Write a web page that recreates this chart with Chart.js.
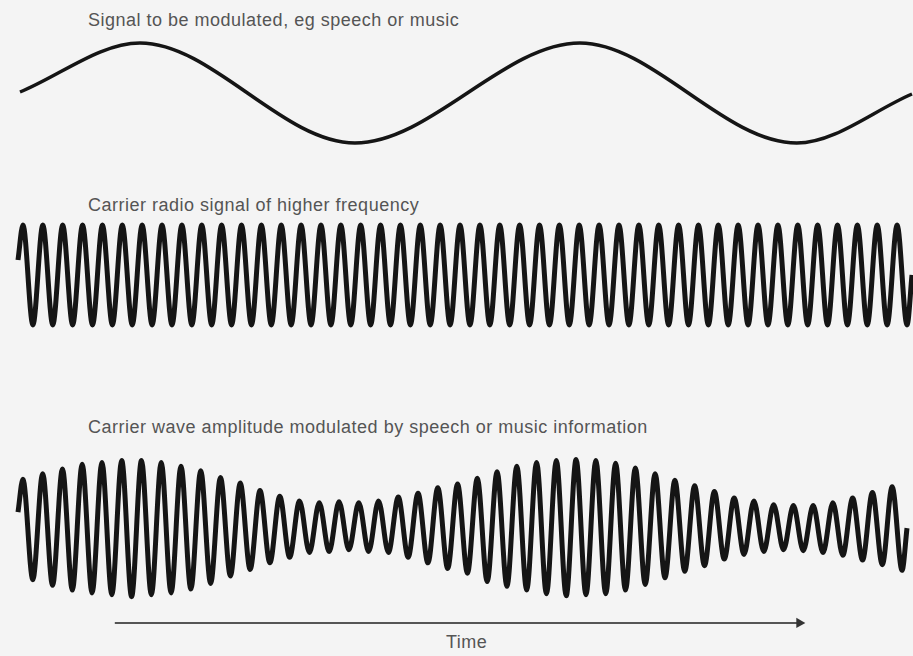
<!DOCTYPE html>
<html>
<head>
<meta charset="utf-8">
<script src="https://cdn.jsdelivr.net/npm/chart.js@4"></script>
<style>
  body { margin: 0; background: #f4f4f4; }
  #pagina { position: relative; width: 913px; height: 656px; background: #f4f4f4; overflow: hidden; }
  canvas { position: absolute; left: 0; }
  .rotulo { position: absolute; font-family: "Liberation Sans", Arial, sans-serif; font-size: 18px; color: #555555; letter-spacing: 0.5px; white-space: nowrap; }
</style>
</head>
<body>
<div id="pagina">
  <div class="rotulo" style="left:88px; top:10px;">Signal to be modulated, eg speech or music</div>
  <div class="rotulo" style="left:88px; top:195px;">Carrier radio signal of higher frequency</div>
  <div class="rotulo" style="left:88px; top:417px;">Carrier wave amplitude modulated by speech or music information</div>
  <div class="rotulo" style="left:446px; top:632px;">Time</div>
  <canvas id="graficoSinal" width="913" height="130" style="top:28px"></canvas>
  <canvas id="graficoPortadora" width="913" height="130" style="top:210px"></canvas>
  <canvas id="graficoModulado" width="913" height="196" style="top:447px"></canvas>
</div>
<script>
// tempo medido em ciclos da portadora (0 a 45)
const sinalTempos = [0.1, 6.14, 16.96, 28.28, 39.2, 45];
const sinalValores = [0.02, 1, -1, 1, -1, -0.02];

// picos e vales da portadora (inicio, pico, vale, ... , fim)
const portadoraTempos = [0,
    0.25, 0.75, 1.25, 1.75, 2.25, 2.75, 3.25, 3.75, 4.25, 4.75,
    5.25, 5.75, 6.25, 6.75, 7.25, 7.75, 8.25, 8.75, 9.25, 9.75,
    10.25, 10.75, 11.25, 11.75, 12.25, 12.75, 13.25, 13.75, 14.25, 14.75,
    15.25, 15.75, 16.25, 16.75, 17.25, 17.75, 18.25, 18.75, 19.25, 19.75,
    20.25, 20.75, 21.25, 21.75, 22.25, 22.75, 23.25, 23.75, 24.25, 24.75,
    25.25, 25.75, 26.25, 26.75, 27.25, 27.75, 28.25, 28.75, 29.25, 29.75,
    30.25, 30.75, 31.25, 31.75, 32.25, 32.75, 33.25, 33.75, 34.25, 34.75,
    35.25, 35.75, 36.25, 36.75, 37.25, 37.75, 38.25, 38.75, 39.25, 39.75,
    40.25, 40.75, 41.25, 41.75, 42.25, 42.75, 43.25, 43.75, 44.25, 44.75,
    45];

const portadoraValores = [0.3,
    1, -1, 1, -1, 1, -1, 1, -1, 1, -1,
    1, -1, 1, -1, 1, -1, 1, -1, 1, -1,
    1, -1, 1, -1, 1, -1, 1, -1, 1, -1,
    1, -1, 1, -1, 1, -1, 1, -1, 1, -1,
    1, -1, 1, -1, 1, -1, 1, -1, 1, -1,
    1, -1, 1, -1, 1, -1, 1, -1, 1, -1,
    1, -1, 1, -1, 1, -1, 1, -1, 1, -1,
    1, -1, 1, -1, 1, -1, 1, -1, 1, -1,
    1, -1, 1, -1, 1, -1, 1, -1, 1, -1,
    0];

// onda modulada (mesmos tempos da portadora)
const moduladoValores = [0.34,
    1.04, -1.10, 1.16, -1.22, 1.26, -1.32, 1.36, -1.38, 1.40, -1.42,
    1.44, -1.46, 1.44, -1.42, 1.40, -1.38, 1.32, -1.30, 1.22, -1.18,
    1.08, -1.02, 0.96, -0.88, 0.80, -0.74, 0.68, -0.62, 0.58, -0.52,
    0.54, -0.50, 0.56, -0.46, 0.54, -0.50, 0.58, -0.52, 0.66, -0.62,
    0.74, -0.74, 0.86, -0.86, 0.94, -0.96, 1.06, -1.14, 1.20, -1.24,
    1.32, -1.32, 1.40, -1.40, 1.44, -1.44, 1.46, -1.42, 1.44, -1.40,
    1.38, -1.32, 1.28, -1.20, 1.16, -1.06, 1.02, -0.92, 0.90, -0.80,
    0.78, -0.66, 0.64, -0.56, 0.58, -0.50, 0.50, -0.46, 0.48, -0.48,
    0.48, -0.52, 0.54, -0.58, 0.64, -0.68, 0.76, -0.78, 0.88, -0.90,
    0];

// seta do tempo
const setaTempos = [4.9, 39.55];
const setaNivel = [-2.02, -2.02];

function pontos(tempos, valores) {
    var lista = [];
    for (var i = 0; i < tempos.length; i++) {
        lista.push({ x: tempos[i], y: valores[i] });
    }
    return lista;
}

function configuracao(datasets, yMin, yMax) {
    return {
        type: 'line',
        data: { datasets: datasets },
        options: {
            responsive: false,
            animation: false,
            layout: { padding: { left: 18, right: 1, top: 0, bottom: 0 } },
            plugins: { legend: { display: false }, tooltip: { enabled: false } },
            elements: { point: { radius: 0 } },
            scales: {
                x: { type: 'linear', min: 0, max: 45, display: false },
                y: { min: yMin, max: yMax, display: false }
            }
        }
    };
}

new Chart(document.getElementById('graficoSinal'), configuracao([{
    data: pontos(sinalTempos, sinalValores),
    borderColor: '#151515',
    borderWidth: 3.5,
    cubicInterpolationMode: 'monotone',
    clip: false
}], -1.3, 1.3));

new Chart(document.getElementById('graficoPortadora'), configuracao([{
    data: pontos(portadoraTempos, portadoraValores),
    borderColor: '#151515',
    borderWidth: 5,
    cubicInterpolationMode: 'monotone',
    clip: false
}], -1.3, 1.3));

new Chart(document.getElementById('graficoModulado'), configuracao([{
    data: pontos(portadoraTempos, moduladoValores),
    borderColor: '#151515',
    borderWidth: 5,
    cubicInterpolationMode: 'monotone',
    clip: false
}, {
    data: pontos(setaTempos, setaNivel),
    borderColor: '#555555',
    backgroundColor: '#333333',
    borderWidth: 2,
    pointStyle: 'triangle',
    rotation: 90,
    pointRadius: [0, 6],
    pointBorderWidth: 0,
    clip: false
}], -2.32, 1.6));
</script>
</body>
</html>
